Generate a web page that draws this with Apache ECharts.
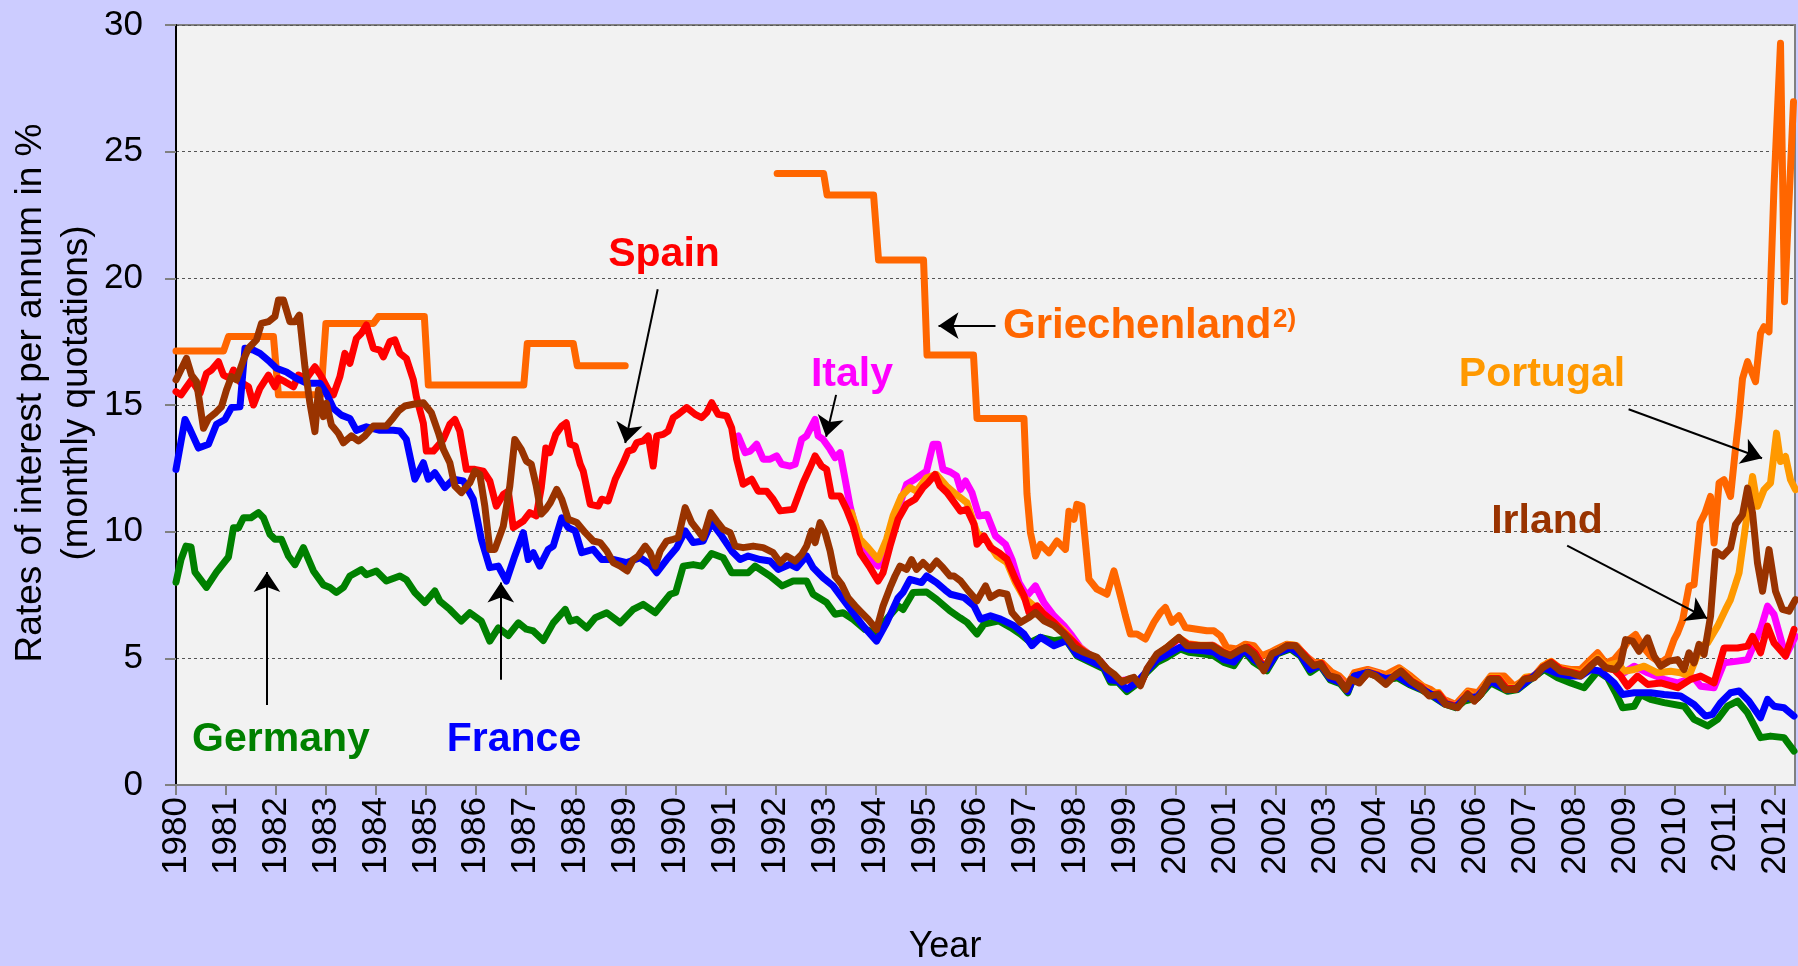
<!DOCTYPE html>
<html>
<head>
<meta charset="utf-8">
<title>Rates of interest</title>
<script src="https://cdn.jsdelivr.net/npm/echarts/dist/echarts.min.js"></script>
<style>
  html, body { margin: 0; padding: 0; background: #ccccff; }
  #chart { width: 1798px; height: 966px; }
</style>
</head>
<body>
<div id="chart"></div>
<script>
  // monthly quotations as [year, rate]
  var germany = [[1980.0,8.0],[1980.1,8.9],[1980.2,9.43],[1980.3,9.4],[1980.38,8.4],[1980.61,7.8],[1980.81,8.4],[1981.05,9.0],[1981.15,10.15],[1981.25,10.15],[1981.35,10.55],[1981.5,10.55],[1981.65,10.75],[1981.75,10.55],[1981.88,9.9],[1981.98,9.7],[1982.11,9.7],[1982.25,9.04],[1982.38,8.7],[1982.55,9.37],[1982.75,8.45],[1982.95,7.9],[1983.08,7.8],[1983.21,7.6],[1983.35,7.8],[1983.48,8.25],[1983.71,8.5],[1983.81,8.3],[1984.01,8.45],[1984.21,8.05],[1984.48,8.25],[1984.61,8.1],[1984.78,7.6],[1984.98,7.2],[1985.18,7.66],[1985.28,7.26],[1985.48,6.93],[1985.71,6.47],[1985.88,6.8],[1986.11,6.47],[1986.28,5.68],[1986.45,6.2],[1986.65,5.9],[1986.85,6.4],[1987.01,6.15],[1987.15,6.08],[1987.35,5.7],[1987.55,6.4],[1987.79,6.93],[1987.89,6.47],[1988.02,6.54],[1988.22,6.2],[1988.39,6.6],[1988.62,6.8],[1988.89,6.4],[1989.15,6.93],[1989.35,7.13],[1989.59,6.8],[1989.89,7.53],[1990.0,7.6],[1990.15,8.64],[1990.35,8.7],[1990.52,8.64],[1990.72,9.14],[1990.95,8.97],[1991.12,8.38],[1991.45,8.38],[1991.59,8.64],[1991.89,8.25],[1992.13,7.86],[1992.35,8.05],[1992.62,8.05],[1992.75,7.53],[1993.02,7.2],[1993.19,6.74],[1993.35,6.8],[1993.55,6.54],[1993.79,6.14],[1994.02,6.0],[1994.22,6.54],[1994.45,7.07],[1994.55,6.93],[1994.75,7.6],[1995.02,7.62],[1995.22,7.33],[1995.49,6.87],[1995.69,6.6],[1995.83,6.42],[1996.03,5.96],[1996.17,6.35],[1996.47,6.48],[1996.7,6.22],[1996.9,5.96],[1997.1,5.63],[1997.3,5.83],[1997.57,5.7],[1997.8,5.76],[1998.03,5.1],[1998.3,4.84],[1998.57,4.58],[1998.7,4.06],[1998.85,4.06],[1999.03,3.69],[1999.23,3.99],[1999.43,4.45],[1999.63,4.84],[1999.83,5.04],[2000.1,5.37],[2000.27,5.24],[2000.57,5.17],[2000.77,5.1],[2000.97,4.84],[2001.17,4.71],[2001.37,5.3],[2001.57,4.84],[2001.83,4.51],[2002.03,5.17],[2002.3,5.37],[2002.5,5.1],[2002.7,4.45],[2002.9,4.71],[2003.1,4.15],[2003.3,4.0],[2003.45,3.64],[2003.58,4.3],[2003.85,4.43],[2004.21,4.15],[2004.45,4.23],[2004.68,3.97],[2004.91,3.77],[2005.11,3.55],[2005.38,3.2],[2005.61,3.05],[2005.78,3.31],[2006.05,3.44],[2006.31,4.03],[2006.65,3.7],[2006.85,3.77],[2007.11,4.17],[2007.38,4.56],[2007.65,4.23],[2007.91,4.03],[2008.18,3.84],[2008.45,4.49],[2008.65,4.23],[2008.81,3.64],[2008.95,3.05],[2009.18,3.11],[2009.31,3.57],[2009.51,3.38],[2009.78,3.25],[2010.18,3.11],[2010.38,2.59],[2010.65,2.33],[2010.85,2.59],[2011.05,3.11],[2011.25,3.31],[2011.45,2.85],[2011.71,1.87],[2011.91,1.93],[2012.18,1.87],[2012.38,1.34]];

  var france = [[1980.0,12.46],[1980.18,14.43],[1980.28,14.04],[1980.45,13.3],[1980.65,13.45],[1980.81,14.24],[1980.98,14.43],[1981.11,14.9],[1981.28,14.93],[1981.38,17.24],[1981.55,17.17],[1981.68,17.04],[1981.88,16.7],[1982.01,16.45],[1982.21,16.3],[1982.41,16.05],[1982.61,15.86],[1982.88,15.86],[1983.01,15.46],[1983.15,14.87],[1983.31,14.6],[1983.48,14.47],[1983.61,14.0],[1983.81,14.14],[1984.08,14.0],[1984.35,14.0],[1984.48,13.97],[1984.61,13.64],[1984.78,12.07],[1984.95,12.72],[1985.05,12.07],[1985.18,12.33],[1985.38,11.74],[1985.55,12.07],[1985.75,12.0],[1985.95,11.28],[1986.11,9.7],[1986.28,8.58],[1986.45,8.64],[1986.61,8.05],[1986.78,9.04],[1986.95,9.96],[1987.05,8.9],[1987.15,9.17],[1987.28,8.64],[1987.45,9.3],[1987.55,9.43],[1987.72,10.55],[1987.85,10.16],[1987.99,10.03],[1988.12,9.17],[1988.35,9.3],[1988.52,8.9],[1988.75,8.9],[1989.02,8.78],[1989.29,8.97],[1989.49,8.71],[1989.62,8.38],[1989.82,8.9],[1990.02,9.37],[1990.19,10.03],[1990.35,9.57],[1990.55,9.63],[1990.72,10.36],[1990.92,9.83],[1991.12,9.24],[1991.29,8.9],[1991.45,9.04],[1991.69,8.9],[1991.89,8.84],[1992.05,8.51],[1992.29,8.71],[1992.42,8.58],[1992.62,9.04],[1992.75,8.58],[1992.95,8.18],[1993.15,7.86],[1993.35,7.33],[1993.55,6.8],[1993.75,6.28],[1994.02,5.68],[1994.22,6.4],[1994.45,7.39],[1994.55,7.6],[1994.69,8.12],[1994.92,7.99],[1995.02,8.25],[1995.22,7.99],[1995.39,7.7],[1995.5,7.53],[1995.77,7.4],[1995.97,7.07],[1996.1,6.55],[1996.3,6.68],[1996.5,6.55],[1996.77,6.29],[1996.97,5.96],[1997.13,5.5],[1997.3,5.83],[1997.57,5.5],[1997.83,5.7],[1998.03,5.15],[1998.3,4.9],[1998.57,4.65],[1998.7,4.15],[1998.85,4.1],[1999.03,3.78],[1999.23,4.05],[1999.43,4.5],[1999.63,4.95],[1999.83,5.15],[2000.1,5.45],[2000.27,5.35],[2000.57,5.3],[2000.77,5.25],[2000.97,4.95],[2001.17,4.85],[2001.37,5.35],[2001.57,4.95],[2001.83,4.6],[2002.03,5.2],[2002.3,5.42],[2002.5,5.15],[2002.7,4.55],[2002.9,4.75],[2003.1,4.2],[2003.3,4.05],[2003.45,3.7],[2003.58,4.3],[2003.85,4.45],[2004.21,4.2],[2004.45,4.3],[2004.68,4.0],[2004.91,3.8],[2005.11,3.6],[2005.38,3.22],[2005.61,3.08],[2005.78,3.4],[2006.05,3.5],[2006.31,4.1],[2006.65,3.75],[2006.85,3.8],[2007.11,4.2],[2007.38,4.62],[2007.65,4.4],[2007.91,4.3],[2008.11,4.3],[2008.31,4.56],[2008.51,4.49],[2008.78,4.03],[2008.95,3.57],[2009.18,3.64],[2009.51,3.64],[2009.78,3.57],[2010.11,3.51],[2010.38,3.18],[2010.61,2.72],[2010.75,2.79],[2010.91,3.25],[2011.11,3.64],[2011.28,3.71],[2011.48,3.31],[2011.71,2.65],[2011.85,3.38],[2011.98,3.11],[2012.18,3.05],[2012.38,2.72]];

  var spain = [[1980.0,15.53],[1980.1,15.4],[1980.31,15.99],[1980.48,15.46],[1980.61,16.25],[1980.71,16.38],[1980.85,16.71],[1980.95,16.18],[1981.08,16.05],[1981.15,16.38],[1981.28,15.92],[1981.45,15.72],[1981.55,15.0],[1981.68,15.66],[1981.85,16.18],[1981.98,15.72],[1982.05,16.05],[1982.18,15.92],[1982.35,15.72],[1982.45,16.18],[1982.61,16.05],[1982.78,16.51],[1982.91,16.12],[1983.05,15.6],[1983.15,15.4],[1983.28,16.12],[1983.38,17.04],[1983.48,16.64],[1983.61,17.63],[1983.71,17.83],[1983.81,18.16],[1983.95,17.24],[1984.08,17.17],[1984.15,16.9],[1984.28,17.5],[1984.38,17.57],[1984.48,17.04],[1984.61,16.84],[1984.75,15.99],[1984.81,15.33],[1984.95,14.28],[1985.01,13.18],[1985.15,13.18],[1985.35,13.64],[1985.48,14.24],[1985.58,14.43],[1985.68,13.97],[1985.81,12.46],[1985.98,12.46],[1986.15,12.39],[1986.28,12.0],[1986.41,11.01],[1986.55,11.47],[1986.65,11.6],[1986.75,10.16],[1986.95,10.42],[1987.08,10.75],[1987.21,10.62],[1987.31,11.74],[1987.4,13.3],[1987.48,13.12],[1987.6,13.84],[1987.72,14.17],[1987.81,14.3],[1987.89,13.45],[1987.99,13.38],[1988.09,12.66],[1988.15,12.39],[1988.29,11.08],[1988.45,11.01],[1988.52,11.28],[1988.65,11.21],[1988.79,12.07],[1988.95,12.72],[1989.05,13.18],[1989.15,13.25],[1989.22,13.51],[1989.35,13.58],[1989.45,13.78],[1989.55,12.59],[1989.62,13.78],[1989.75,13.84],[1989.85,13.97],[1989.95,14.5],[1990.05,14.63],[1990.22,14.9],[1990.39,14.63],[1990.52,14.5],[1990.62,14.7],[1990.72,15.09],[1990.85,14.63],[1991.02,14.57],[1991.12,14.1],[1991.22,12.86],[1991.35,11.87],[1991.52,12.07],[1991.65,11.6],[1991.82,11.6],[1991.95,11.28],[1992.09,10.82],[1992.35,10.88],[1992.55,11.93],[1992.69,12.53],[1992.79,12.99],[1992.92,12.59],[1993.02,12.46],[1993.12,11.41],[1993.29,11.41],[1993.42,10.88],[1993.55,10.22],[1993.69,9.17],[1993.89,8.58],[1994.05,8.05],[1994.15,8.38],[1994.29,9.43],[1994.45,10.49],[1994.62,11.08],[1994.79,11.28],[1994.95,11.74],[1995.05,11.93],[1995.19,12.26],[1995.29,11.8],[1995.43,11.54],[1995.6,11.08],[1995.7,10.81],[1995.83,10.88],[1995.97,10.29],[1996.03,9.5],[1996.17,9.83],[1996.3,9.37],[1996.47,9.17],[1996.63,8.91],[1996.8,8.12],[1996.97,7.47],[1997.07,6.81],[1997.23,7.07],[1997.37,6.75],[1997.57,6.42],[1997.73,6.09],[1997.9,5.76],[1998.1,5.37],[1998.3,5.1],[1998.5,4.85],[1998.7,4.4],[1998.9,4.1],[1999.07,4.15],[1999.3,3.98],[1999.45,4.6],[1999.65,5.15],[1999.85,5.45],[2000.07,5.8],[2000.25,5.55],[2000.5,5.5],[2000.75,5.5],[2000.95,5.25],[2001.1,5.12],[2001.3,5.35],[2001.45,5.45],[2001.6,5.2],[2001.78,4.6],[2001.95,5.2],[2002.1,5.32],[2002.25,5.52],[2002.4,5.5],[2002.6,5.1],[2002.77,4.72],[2002.92,4.8],[2003.1,4.2],[2003.27,4.15],[2003.42,3.82],[2003.55,4.2],[2003.7,4.1],[2003.87,4.45],[2004.05,4.35],[2004.22,4.05],[2004.4,4.35],[2004.52,4.5],[2004.72,4.12],[2004.92,3.88],[2005.1,3.55],[2005.27,3.6],[2005.42,3.22],[2005.65,3.1],[2005.85,3.6],[2006.0,3.35],[2006.12,3.6],[2006.3,4.2],[2006.47,4.2],[2006.62,3.82],[2006.82,3.8],[2007.0,4.2],[2007.18,4.27],[2007.35,4.65],[2007.52,4.85],[2007.72,4.55],[2007.92,4.45],[2008.12,4.35],[2008.31,4.72],[2008.45,4.95],[2008.62,4.62],[2008.78,4.55],[2008.91,4.3],[2009.05,3.9],[2009.25,4.3],[2009.45,3.97],[2009.71,4.03],[2010.05,3.84],[2010.31,4.17],[2010.51,4.3],[2010.78,4.03],[2010.98,5.41],[2011.25,5.41],[2011.45,5.48],[2011.55,5.87],[2011.71,5.22],[2011.85,6.27],[2011.98,5.61],[2012.21,5.09],[2012.38,6.14]];

  var italy = [[1991.25,13.78],[1991.39,13.12],[1991.49,13.18],[1991.62,13.45],[1991.75,12.86],[1991.89,12.86],[1992.02,12.99],[1992.12,12.66],[1992.29,12.59],[1992.39,12.66],[1992.52,13.64],[1992.62,13.78],[1992.79,14.43],[1992.85,13.78],[1992.95,13.64],[1993.09,13.25],[1993.19,12.92],[1993.29,13.12],[1993.39,12.07],[1993.49,11.01],[1993.59,10.22],[1993.72,9.37],[1993.89,8.9],[1994.05,8.64],[1994.19,9.43],[1994.35,10.22],[1994.52,11.28],[1994.62,11.87],[1994.79,12.07],[1995.02,12.39],[1995.15,13.45],[1995.25,13.45],[1995.35,12.46],[1995.5,12.35],[1995.62,12.2],[1995.7,11.67],[1995.8,12.0],[1995.93,11.54],[1996.07,10.62],[1996.23,10.68],[1996.4,9.83],[1996.6,9.5],[1996.73,8.91],[1996.87,7.99],[1997.03,7.47],[1997.2,7.86],[1997.37,7.2],[1997.57,6.68],[1997.77,6.29],[1997.93,5.89],[1998.1,5.43],[1998.3,5.12],[1998.5,4.88],[1998.7,4.42],[1998.9,4.12],[1999.07,4.17],[1999.3,4.0],[1999.45,4.62],[1999.65,5.15],[1999.85,5.42],[2000.07,5.78],[2000.25,5.55],[2000.5,5.5],[2000.75,5.52],[2000.95,5.25],[2001.1,5.12],[2001.3,5.35],[2001.45,5.45],[2001.6,5.22],[2001.78,4.62],[2001.95,5.2],[2002.1,5.32],[2002.25,5.52],[2002.4,5.5],[2002.6,5.12],[2002.77,4.75],[2002.92,4.8],[2003.1,4.25],[2003.27,4.2],[2003.42,3.85],[2003.55,4.25],[2003.7,4.15],[2003.87,4.5],[2004.05,4.4],[2004.22,4.1],[2004.4,4.38],[2004.52,4.52],[2004.72,4.15],[2004.92,3.9],[2005.1,3.58],[2005.27,3.62],[2005.42,3.25],[2005.65,3.12],[2005.85,3.62],[2006.0,3.4],[2006.12,3.62],[2006.3,4.22],[2006.47,4.22],[2006.62,3.85],[2006.82,3.82],[2007.0,4.22],[2007.18,4.3],[2007.35,4.68],[2007.52,4.85],[2007.72,4.55],[2007.92,4.45],[2008.12,4.38],[2008.31,4.75],[2008.45,4.98],[2008.62,4.65],[2008.78,4.6],[2008.98,4.43],[2009.18,4.69],[2009.45,4.43],[2009.78,4.17],[2010.05,4.03],[2010.38,4.23],[2010.51,3.9],[2010.78,3.84],[2010.98,4.82],[2011.25,4.89],[2011.45,4.95],[2011.71,6.14],[2011.85,7.06],[2011.98,6.73],[2012.21,5.09],[2012.41,5.87]];

  var portugal = [[1993.52,10.75],[1993.69,9.7],[1993.85,9.37],[1994.05,8.9],[1994.22,9.7],[1994.35,10.62],[1994.52,11.41],[1994.69,11.74],[1994.82,11.6],[1995.02,12.13],[1995.22,12.26],[1995.42,11.8],[1995.57,11.54],[1995.83,11.14],[1996.03,9.96],[1996.23,9.63],[1996.43,9.04],[1996.63,8.78],[1996.8,7.99],[1996.97,7.4],[1997.17,7.07],[1997.37,6.68],[1997.57,6.42],[1997.77,6.09],[1997.97,5.63],[1998.1,5.4],[1998.3,5.12],[1998.5,4.86],[1998.7,4.42],[1998.9,4.1],[1999.07,4.15],[1999.3,4.0],[1999.45,4.6],[1999.65,5.17],[1999.85,5.47],[2000.07,5.82],[2000.25,5.58],[2000.5,5.52],[2000.75,5.52],[2000.95,5.28],[2001.1,5.15],[2001.3,5.37],[2001.45,5.47],[2001.6,5.22],[2001.78,4.62],[2001.95,5.22],[2002.1,5.35],[2002.25,5.55],[2002.4,5.52],[2002.6,5.12],[2002.77,4.75],[2002.92,4.82],[2003.1,4.25],[2003.27,4.18],[2003.42,3.85],[2003.55,4.25],[2003.7,4.15],[2003.87,4.5],[2004.05,4.4],[2004.22,4.1],[2004.4,4.4],[2004.52,4.55],[2004.72,4.18],[2004.92,3.92],[2005.1,3.6],[2005.27,3.65],[2005.42,3.25],[2005.65,3.12],[2005.85,3.65],[2006.0,3.42],[2006.12,3.65],[2006.3,4.25],[2006.47,4.25],[2006.62,3.85],[2006.82,3.85],[2007.0,4.25],[2007.18,4.3],[2007.35,4.7],[2007.52,4.88],[2007.72,4.58],[2007.92,4.5],[2008.12,4.42],[2008.31,4.78],[2008.45,5.02],[2008.62,4.7],[2008.85,4.82],[2008.98,4.49],[2009.18,4.56],[2009.38,4.69],[2009.65,4.43],[2009.91,4.49],[2010.11,4.43],[2010.28,4.3],[2010.41,4.95],[2010.51,5.48],[2010.65,5.61],[2010.85,6.27],[2011.01,6.93],[2011.11,7.32],[2011.28,8.37],[2011.41,10.21],[2011.55,12.18],[2011.65,11.0],[2011.78,11.66],[2011.91,11.92],[2012.03,13.89],[2012.11,12.77],[2012.21,12.97],[2012.31,12.05],[2012.41,11.66]];

  var ireland = [[1980.0,15.99],[1980.21,16.84],[1980.31,16.18],[1980.41,15.92],[1980.55,14.08],[1980.65,14.47],[1980.78,14.67],[1980.91,14.93],[1981.01,15.59],[1981.11,16.12],[1981.21,15.99],[1981.35,16.78],[1981.45,17.24],[1981.61,17.57],[1981.71,18.22],[1981.85,18.29],[1981.98,18.49],[1982.05,19.14],[1982.15,19.14],[1982.28,18.29],[1982.38,18.29],[1982.47,18.55],[1982.58,16.51],[1982.68,15.07],[1982.78,13.95],[1982.85,15.59],[1982.95,14.54],[1983.01,15.07],[1983.11,14.21],[1983.25,13.88],[1983.35,13.51],[1983.51,13.78],[1983.65,13.58],[1983.78,13.78],[1983.95,14.17],[1984.08,14.17],[1984.21,14.17],[1984.35,14.5],[1984.45,14.76],[1984.58,14.96],[1984.75,15.03],[1984.95,15.09],[1985.11,14.7],[1985.25,13.91],[1985.35,13.25],[1985.48,12.72],[1985.58,11.8],[1985.71,11.54],[1985.88,11.93],[1985.98,12.39],[1986.08,12.26],[1986.18,11.01],[1986.28,9.3],[1986.38,9.3],[1986.55,10.22],[1986.68,11.8],[1986.78,13.64],[1986.91,13.25],[1987.01,12.79],[1987.11,12.66],[1987.21,11.8],[1987.31,10.7],[1987.4,10.88],[1987.49,11.14],[1987.62,11.67],[1987.72,11.28],[1987.85,10.49],[1988.02,10.36],[1988.19,9.96],[1988.35,9.63],[1988.49,9.57],[1988.62,9.24],[1988.75,8.78],[1988.89,8.64],[1989.03,8.45],[1989.15,8.9],[1989.25,9.04],[1989.39,9.43],[1989.49,9.17],[1989.59,8.64],[1989.69,9.24],[1989.82,9.63],[1989.95,9.7],[1990.05,9.76],[1990.19,10.95],[1990.32,10.36],[1990.45,10.03],[1990.55,9.76],[1990.7,10.75],[1990.82,10.42],[1990.95,10.09],[1991.09,9.96],[1991.19,9.43],[1991.35,9.37],[1991.55,9.43],[1991.75,9.37],[1991.95,9.17],[1992.09,8.78],[1992.22,9.04],[1992.39,8.84],[1992.52,9.1],[1992.62,9.43],[1992.72,10.03],[1992.79,9.57],[1992.89,10.36],[1992.99,9.96],[1993.09,9.24],[1993.19,8.25],[1993.32,7.92],[1993.45,7.39],[1993.59,7.07],[1993.72,6.8],[1993.85,6.54],[1994.02,6.14],[1994.15,7.07],[1994.29,7.79],[1994.39,8.25],[1994.49,8.64],[1994.62,8.51],[1994.72,8.9],[1994.82,8.51],[1994.95,8.78],[1995.09,8.51],[1995.22,8.84],[1995.35,8.58],[1995.49,8.25],[1995.57,8.25],[1995.7,8.06],[1995.83,7.73],[1996.03,7.27],[1996.2,7.86],[1996.3,7.4],[1996.47,7.6],[1996.63,7.53],[1996.73,6.81],[1996.9,6.42],[1997.07,6.61],[1997.2,6.81],[1997.37,6.48],[1997.57,6.29],[1997.77,5.96],[1997.97,5.43],[1998.17,5.24],[1998.43,5.04],[1998.63,4.58],[1998.77,4.38],[1998.93,4.06],[1999.07,4.19],[1999.17,4.25],[1999.3,3.92],[1999.43,4.58],[1999.63,5.17],[1999.83,5.43],[2000.07,5.83],[2000.23,5.5],[2000.5,5.5],[2000.73,5.5],[2000.93,5.24],[2001.1,5.1],[2001.27,5.3],[2001.4,5.43],[2001.57,5.17],[2001.77,4.51],[2001.93,5.17],[2002.07,5.3],[2002.23,5.5],[2002.4,5.5],[2002.57,5.1],[2002.77,4.71],[2002.9,4.78],[2003.07,4.32],[2003.25,4.23],[2003.41,3.77],[2003.51,4.17],[2003.68,4.03],[2003.85,4.43],[2004.01,4.3],[2004.21,3.97],[2004.38,4.3],[2004.51,4.49],[2004.71,4.1],[2004.91,3.84],[2005.08,3.51],[2005.25,3.57],[2005.41,3.18],[2005.65,3.05],[2005.85,3.57],[2005.98,3.31],[2006.11,3.57],[2006.28,4.17],[2006.45,4.17],[2006.61,3.77],[2006.81,3.77],[2006.98,4.17],[2007.18,4.23],[2007.35,4.63],[2007.51,4.82],[2007.71,4.49],[2007.91,4.43],[2008.11,4.3],[2008.31,4.69],[2008.45,4.95],[2008.61,4.63],[2008.81,4.56],[2008.91,4.82],[2009.01,5.74],[2009.15,5.68],[2009.28,5.28],[2009.45,5.81],[2009.58,5.09],[2009.71,4.69],[2009.88,4.89],[2010.05,4.95],[2010.18,4.56],[2010.28,5.22],[2010.38,4.82],[2010.48,5.55],[2010.58,5.15],[2010.71,6.66],[2010.81,9.22],[2010.95,9.03],[2011.11,9.36],[2011.21,10.28],[2011.35,10.67],[2011.45,11.72],[2011.55,10.74],[2011.65,8.76],[2011.75,7.65],[2011.88,9.29],[2012.01,7.65],[2012.15,6.93],[2012.28,6.86],[2012.41,7.32]];

  // Greece: yearly steps in the 1980s, a gap 1989-1991, steps again from 1992
  var greece = [[1980.0,17.13],[1980.95,17.13],[1981.05,17.7],[1981.95,17.7],[1982.05,15.4],[1982.9,15.4],[1983.0,18.22],[1983.95,18.22],[1984.05,18.49],[1984.97,18.49],[1985.05,15.79],[1986.96,15.79],[1987.03,17.43],[1987.95,17.43],[1988.03,16.55],[1988.99,16.55],null,
    [1992.03,24.14],[1992.96,24.14],[1993.03,23.29],[1993.96,23.29],[1994.06,20.72],[1994.96,20.72],[1995.03,16.97],[1995.96,16.97],[1996.03,14.47],[1996.97,14.47],[1997.03,11.5],[1997.1,9.96],[1997.2,9.04],[1997.3,9.5],[1997.47,9.17],[1997.63,9.63],[1997.8,9.3],[1997.87,10.81],[1997.97,10.49],[1998.03,11.08],[1998.13,11.01],[1998.27,8.12],[1998.43,7.73],[1998.63,7.53],[1998.77,8.45],[1998.9,7.47],[1999.0,6.68],[1999.1,5.96],[1999.23,5.96],[1999.4,5.76],[1999.57,6.42],[1999.7,6.81],[1999.8,7.01],[1999.93,6.42],[2000.07,6.68],[2000.2,6.22],[2000.43,6.15],[2000.63,6.09],[2000.77,6.09],[2000.9,5.89],[2001.03,5.43],[2001.23,5.37],[2001.4,5.56],[2001.57,5.5],[2001.73,5.1],[2001.9,5.24],[2002.03,5.37],[2002.23,5.56],[2002.43,5.5],[2002.6,5.1],[2002.77,4.84],[2002.93,4.84],[2003.13,4.45],[2003.27,4.32],[2003.45,3.97],[2003.58,4.43],[2003.85,4.56],[2004.21,4.36],[2004.48,4.63],[2004.71,4.3],[2004.95,3.9],[2005.11,3.77],[2005.38,3.38],[2005.61,3.18],[2005.85,3.71],[2006.05,3.64],[2006.31,4.3],[2006.58,4.3],[2006.78,3.9],[2007.05,4.23],[2007.25,4.36],[2007.45,4.82],[2007.71,4.63],[2007.91,4.56],[2008.11,4.56],[2008.31,4.95],[2008.45,5.22],[2008.61,4.82],[2008.78,4.95],[2008.95,5.35],[2009.08,5.74],[2009.21,5.94],[2009.35,5.48],[2009.51,5.09],[2009.71,4.82],[2009.85,5.02],[2009.98,5.74],[2010.05,6.0],[2010.15,6.5],[2010.28,7.85],[2010.38,7.91],[2010.5,10.34],[2010.6,10.74],[2010.71,11.39],[2010.78,9.55],[2010.88,11.92],[2010.98,12.05],[2011.11,11.39],[2011.21,13.3],[2011.28,14.54],[2011.35,16.05],[2011.45,16.71],[2011.61,15.92],[2011.71,17.83],[2011.78,18.09],[2011.88,17.89],[2011.98,23.62],[2012.11,29.28],[2012.19,19.08],[2012.37,26.97]];

  var yearTicks = [1980, 2012];
  var rateTicks = [0, 30, 5];

  // annotation arrows [from, tip] in data units
  var arrows = [
    [[1981.82, 3.16], [1981.82, 8.41]],
    [[1986.5, 4.15], [1986.5, 7.99]],
    [[1989.64, 19.57], [1988.99, 13.5]],
    [[1993.21, 15.4], [1993.01, 13.75]],
    [[1996.4, 18.13], [1995.26, 18.13]],
    [[2009.07, 14.83], [2011.74, 12.9]],
    [[2007.84, 9.45], [2010.64, 6.58]]
  ];

  var chart = echarts.init(document.getElementById('chart'));

  var font = '"Liberation Sans", Arial, sans-serif';

  function line(name, data, color) {
    return {
      name: name,
      type: 'line',
      data: data,
      showSymbol: false,
      symbol: 'none',
      connectNulls: false,
      silent: true,
      lineStyle: { color: color, width: 7, cap: 'round', join: 'round' },
      itemStyle: { color: color }
    };
  }

  function label(text, x, y, color) {
    return {
      type: 'text', x: x, y: y, z: 100,
      style: { text: text, fill: color, font: 'bold 41px ' + font, align: 'center', verticalAlign: 'middle' }
    };
  }

  chart.setOption({
    animation: false,
    backgroundColor: '#ccccff',
    grid: {
      left: 176, right: 3, top: 25, bottom: 181,
      show: true, backgroundColor: '#f2f2f2', borderColor: '#808080', borderWidth: 2
    },
    xAxis: {
      type: 'value',
      min: yearTicks[0],
      max: 2012.4,
      interval: 1,
      axisLine: { show: true, lineStyle: { color: '#808080', width: 2 } },
      axisTick: { show: true, length: 10, lineStyle: { color: '#808080', width: 2 } },
      axisLabel: {
        rotate: 90, margin: 12, fontSize: 35, color: '#000', fontFamily: font,
        showMaxLabel: false,
        formatter: function (v) { return (v % 1 === 0 && v <= yearTicks[1]) ? String(v) : ''; }
      },
      splitLine: { show: false }
    },
    yAxis: {
      type: 'value',
      min: rateTicks[0],
      max: rateTicks[1],
      interval: rateTicks[2],
      axisLine: { show: true, lineStyle: { color: '#000', width: 2 } },
      axisTick: { show: true, length: 11, lineStyle: { color: '#808080', width: 2 } },
      axisLabel: { margin: 33, fontSize: 35, color: '#000', fontFamily: font },
      splitLine: { show: true, lineStyle: { color: '#555', width: 1, type: [3, 3] } }
    },
    series: [
      line('Griechenland', greece, '#ff6600'),
      line('Italy', italy, '#ff00ff'),
      line('Portugal', portugal, '#ff9900'),
      line('Spain', spain, '#ff0000'),
      line('Germany', germany, '#008000'),
      line('France', france, '#0000ff'),
      line('Irland', ireland, '#993300'),
      {
        type: 'line',
        data: [],
        silent: true,
        markLine: {
          silent: true,
          symbol: ['none', 'arrow'],
          symbolSize: 20,
          label: { show: false },
          itemStyle: { color: '#000' },
          lineStyle: { color: '#000', width: 2, type: 'solid' },
          emphasis: { disabled: true },
          data: arrows.map(function (a) {
            return [{ coord: a[0] }, { coord: a[1] }];
          })
        }
      }
    ],
    graphic: [
      label('Germany', 281, 740, '#008000'),
      label('France', 514, 740, '#0000ff'),
      label('Spain', 664, 255, '#ff0000'),
      label('Italy', 852, 375, '#ff00ff'),
      label('Portugal', 1542, 375, '#ff9900'),
      label('Irland', 1547, 522, '#993300'),
      {
        type: 'text', x: 1003, y: 326, z: 100,
        style: { text: 'Griechenland', fill: '#ff6600', font: 'bold 42px ' + font, align: 'left', verticalAlign: 'middle' }
      },
      {
        type: 'text', x: 1273, y: 320, z: 100,
        style: { text: '2)', fill: '#ff6600', font: 'bold 26px ' + font, align: 'left', verticalAlign: 'middle' }
      },
      {
        type: 'text', x: 54, y: 393, rotation: Math.PI / 2,
        style: {
          text: 'Rates of interest per annum in %\n(monthly quotations)',
          fill: '#000', font: '37px ' + font, align: 'center', verticalAlign: 'middle', lineHeight: 46
        }
      },
      {
        type: 'text', x: 945, y: 947,
        style: { text: 'Year', fill: '#000', font: '36px ' + font, align: 'center', verticalAlign: 'middle' }
      }
    ]
  });
</script>
</body>
</html>
